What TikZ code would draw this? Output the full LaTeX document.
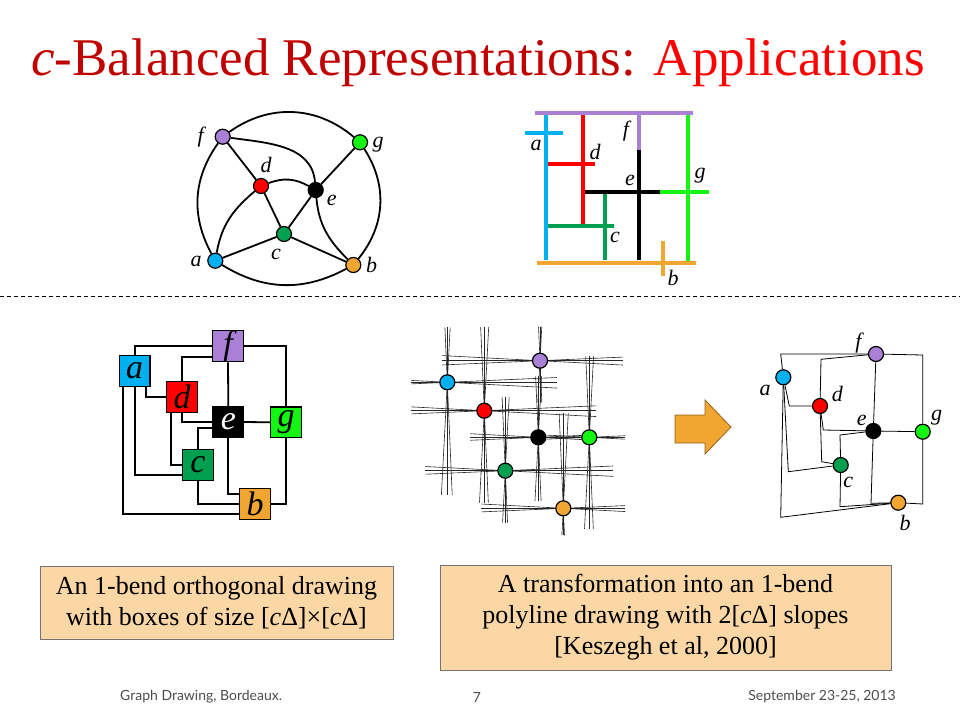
\documentclass[tikz,border=0pt]{standalone}
\usepackage{fontspec}
\setmainfont{Liberation Serif}
\newfontfamily\footfont{Lato}
\definecolor{cblue}{RGB}{0,176,240}
\definecolor{cpurple}{RGB}{170,128,214}
\definecolor{cred}{RGB}{255,0,0}
\definecolor{cgreen}{RGB}{20,245,20}
\definecolor{cdgreen}{RGB}{0,160,80}
\definecolor{corange}{RGB}{242,166,50}
\definecolor{ctitle}{RGB}{192,0,0}
\definecolor{cpeach}{RGB}{250,215,165}
\pgfdeclarelayer{bg}
\pgfsetlayers{bg,main}
\begin{document}
\begin{tikzpicture}[x=1pt,y=-1pt,
  vtx/.style={circle, draw, line width=1.2pt, inner sep=0pt, minimum size=15pt},
  lbl/.style={font=\fontsize{22}{22}\selectfont\itshape, inner sep=0pt},
  tedge/.style={line width=1.8pt},
  seg/.style={line width=4pt},
  obox/.style={draw, line width=1.2pt, minimum size=30.5pt, inner sep=0pt, font=\fontsize{34}{34}\selectfont\itshape},
  oedge/.style={line width=1.8pt},
  slope/.style={line width=0.6pt, black!85},
  pedge/.style={line width=0.8pt},
  capbox/.style={draw=black!55, line width=0.8pt, fill=cpeach, align=center, inner sep=0pt, font=\fontsize{26}{31}\selectfont},
  foot/.style={text=black!70, inner sep=0pt, font=\footfont\fontsize{14}{14}\selectfont}]
\useasboundingbox (0,0) rectangle (960,720);
\node[font=\fontsize{53}{60}\selectfont, inner sep=0pt] (title) at (478,63) {{\color{ctitle}\textit{c}-Balanced Representations: }{\color{red}Applications}};
\node[vtx, fill=cpurple] (tgf) at (222.7,136.7){};
\node[vtx, fill=cgreen] (tgg) at (360,142.3){};
\node[vtx, fill=cred] (tgd) at (261,186){};
\node[vtx, fill=black] (tge) at (315.7,190){};
\node[vtx, fill=cdgreen] (tgc) at (284,234){};
\node[vtx, fill=cblue] (tga) at (215.3,260.7){};
\node[vtx, fill=corange] (tgb) at (353.3,265){};
\draw[tedge](tgf) to[bend left=38] (tgg);
\draw[tedge](tgf) to[bend right=32] (tga);
\draw[tedge](tgg) to[bend left=36] (tgb);
\draw[tedge](tga) to[bend right=30] (tgb);
\draw[tedge](tgf) -- (tgd);
\draw[tedge](tgf) to[out=-8,in=95] (tge);
\draw[tedge](tgd) to[bend left=25] (tge);
\draw[tedge](tgg) -- (tge);
\draw[tedge](tgd) -- (tgc);
\draw[tedge](tge) -- (tgc);
\draw[tedge](tga) to[out=80,in=-140] (tgd);
\draw[tedge](tga) -- (tgc);
\draw[tedge](tgc) -- (tgb);
\draw[tedge](tge) to[out=-85,in=135] (tgb);
\node[lbl] (tlf) at (200.7,136.7) {f};
\node[lbl] (tlg) at (378,145) {g};
\node[lbl] (tld) at (266,165) {d};
\node[lbl] (tle) at (331.7,200) {e};
\node[lbl] (tlc) at (276,254) {c};
\node[lbl] (tla) at (196,261.7) {a};
\node[lbl] (tlb) at (371.7,265) {b};
\draw[seg, cblue] (545.7,113.3) -- (545.7,260);
\draw[seg, cblue] (525,132.7) -- (563.3,132.7);
\draw[seg, cred] (582.7,113.3) -- (582.7,225);
\draw[seg, cred] (547.7,164.3) -- (595,164.3);
\draw[seg, cgreen] (687.7,113.3) -- (687.7,263);
\draw[seg, cgreen] (660,191.7) -- (709.3,191.7);
\draw[seg, black] (585,191.7) -- (660,191.7);
\draw[seg, black] (639.3,150) -- (639.3,260);
\draw[seg, cdgreen] (605,194) -- (605,260);
\draw[seg, cdgreen] (547.7,225.7) -- (614,225.7);
\draw[seg, cpurple] (535,113.3) -- (692.7,113.3);
\draw[seg, cpurple] (639.3,113.3) -- (639.3,150);
\draw[seg, corange] (536.7,262.7) -- (695.7,262.7);
\draw[seg, corange] (662.7,241) -- (662.7,276);
\node[lbl] (sla) at (536,145) {a};
\node[lbl] (sld) at (595,152) {d};
\node[lbl] (slf) at (626,131) {f};
\node[lbl] (sle) at (630,180) {e};
\node[lbl] (slg) at (700,176) {g};
\node[lbl] (slc) at (615,237) {c};
\node[lbl] (slb) at (673,278) {b};
\draw[line width=1pt, dash pattern=on 4pt off 3pt] (0,296) -- (960,296);
\node[obox, fill=cpurple] (obf) at (228,346.3) {f};
\node[obox, fill=cblue] (oba) at (134.7,371) {a};
\node[obox, fill=cred] (obd) at (182,397) {d};
\node[obox, fill=black, text=white] (obe) at (228.3,422) {e};
\node[obox, fill=cgreen] (obg) at (286,422.3) {g};
\node[obox, fill=cdgreen] (obc) at (198,465) {c};
\node[obox, fill=corange] (obb) at (255,504) {b};
\draw[oedge](oba.north) |- (obf.west);
\draw[oedge](obf.east) -| (obg.north);
\draw[oedge]([yshift=-11pt]obf.west) -| (obd.north);
\draw[oedge](obf.south) -- (obe.north);
\draw[oedge]([xshift=11pt]oba.south) |- (obd.west);
\draw[oedge](obd.south) |- (obe.west);
\draw[oedge](oba.south) |- ([yshift=-10pt]obc.west);
\draw[oedge]([xshift=-11pt]obd.south) |- (obc.west);
\draw[oedge]([yshift=-6pt]obe.west) -| (obc.north);
\draw[oedge](obe.east) -- (obg.west);
\draw[oedge](obe.south) |- ([yshift=10pt]obb.west);
\draw[oedge](obc.south) |- (obb.west);
\draw[oedge](obg.south) |- (obb.east);
\draw[oedge]([xshift=-12pt]oba.south) |- ([yshift=-10pt]obb.west);
\node[vtx, fill=cpurple] (plf) at (540,360.7){};
\node[vtx, fill=cblue] (pla) at (447.3,382.3){};
\node[vtx, fill=cred] (pld) at (484.3,410.7){};
\node[vtx, fill=black] (ple) at (538.3,437.3){};
\node[vtx, fill=cgreen] (plg) at (589.3,437.3){};
\node[vtx, fill=cdgreen] (plc) at (505.3,470.7){};
\node[vtx, fill=corange] (plb) at (563.3,508.3){};
\begin{pgfonlayer}{bg}
\foreach \v/\lenl/\lenr/\lenu/\lend in {plf/98/83/34/42, pla/36/110/55/113, pld/73/112/84/92, ple/68/50/61/64, plg/43/36/81/92, plc/80/108/74/52, plb/82/62/95/27}{
  \foreach \t in {-3,0,2.5}{
    \draw[slope] ([shift={({180+\t}:\lenl pt)}]\v.center) -- ([shift={(\t:\lenr pt)}]\v.center);
    \draw[slope] ([shift={({90+\t}:\lenu pt)}]\v.center) -- ([shift={({-90+\t}:\lend pt)}]\v.center);
  }
}
\end{pgfonlayer}
\draw[fill=corange, draw=corange!60!black, line width=0.8pt] (675,415) -- (705,415) -- (705,400) -- (731,427) -- (705,454) -- (705,443) -- (675,443) -- cycle;
\node[vtx, fill=cpurple] (pdf) at (876,354){};
\node[vtx, fill=cblue] (pda) at (783.3,377.3){};
\node[vtx, fill=cred] (pdd) at (820,406){};
\node[vtx, fill=black] (pde) at (873.3,431){};
\node[vtx, fill=cgreen] (pdg) at (922.7,431.7){};
\node[vtx, fill=cdgreen] (pdc) at (840.7,465){};
\node[vtx, fill=corange] (pdb) at (898.3,502.7){};
\draw[pedge](pda) -- (780.7,354) -- (pdf);
\draw[pedge](pdf) -- (922.7,355) -- (pdg);
\draw[pedge](pdf) -- (821,359.3) -- (pdd);
\draw[pedge](pdf) -- (pde);
\draw[pedge](pda) -- (789.3,406) -- (pdd);
\draw[pedge](pdd) -- (823.3,430) -- (pde);
\draw[pedge](pda) -- (788.3,471.7) -- (pdc);
\draw[pedge](pdd) -- (821.7,461.7) -- (pdc);
\draw[pedge](pde) -- (840,435) -- (pdc);
\draw[pedge](pde) -- (pdg);
\draw[pedge](pde) -- (871,503.3) -- (pdb);
\draw[pedge](pdc) -- (840,506.7) -- (pdb);
\draw[pedge](pdg) -- (922.7,504) -- (pdb);
\draw[pedge](pda) -- (780.7,517.3) -- (pdb);
\node[lbl] (dlf) at (858.3,343) {f};
\node[lbl] (dla) at (765,390) {a};
\node[lbl] (dld) at (837.3,394) {d};
\node[lbl] (dle) at (861.7,420) {e};
\node[lbl] (dlg) at (936.7,418) {g};
\node[lbl] (dlc) at (848.3,482) {c};
\node[lbl] (dlb) at (905,523.3) {b};
\node[capbox, minimum width=353pt, minimum height=73pt] (cap1) at (216.5,602.5) {An 1-bend orthogonal drawing\\with boxes of size [\textit{c}Δ]×[\textit{c}Δ]};
\node[capbox, minimum width=451pt, minimum height=105pt] (cap2) at (665.5,617.5) {A transformation into an 1-bend\\polyline drawing with 2[\textit{c}Δ] slopes\\{}[Keszegh et al, 2000]};
\node[foot, anchor=west] (ft1) at (120,697) {Graph Drawing, Bordeaux.};
\node[foot] (ft2) at (477,697) {7};
\node[foot, anchor=east] (ft3) at (896,697) {September 23-25, 2013};
\end{tikzpicture}
\end{document}
